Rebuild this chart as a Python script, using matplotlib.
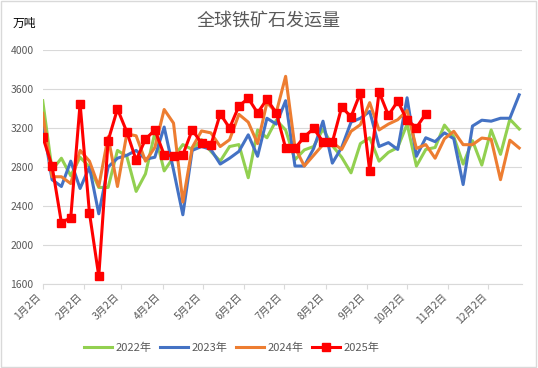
import matplotlib
matplotlib.use('Agg')
import matplotlib.pyplot as plt
from matplotlib.patches import Rectangle

plt.rcParams['font.family'] = ['Noto Sans CJK SC', 'DejaVu Sans']

# weekly values, 万吨
green_2022 = [3480, 2770, 2890, 2710, 2900, 2800, 2590, 2590, 2970, 2910, 2550, 2730, 3150,
              2760, 2900, 3030, 2980, 3080, 2960, 2860, 3010, 3030, 2690, 3180, 3100, 3280,
              3180, 2875, 2975, 3010, 3190, 3020, 2900, 2740, 3040, 3100, 2860, 2950, 3000,
              3240, 2810, 2980, 3000, 3230, 3110, 2830, 3070, 2820, 3180, 2930, 3290, 3190]
blue_2023 = [3250, 2670, 2600, 2860, 2580, 2800, 2320, 2800, 2890, 2920, 2970, 2880, 2900,
             3210, 2770, 2310, 2970, 3010, 2980, 2830, 2890, 2960, 3130, 2910, 3300, 3240,
             3480, 2810, 2810, 2990, 3270, 2840, 3000, 3260, 3300, 3370, 3010, 3050, 2980,
             3510, 2910, 3100, 3060, 3150, 3090, 2620, 3220, 3280, 3270, 3300, 3300, 3540]
orange_2024 = [3350, 2700, 2700, 2630, 2970, 2860, 2600, 3110, 2600, 3140, 3120, 2860, 3000,
               3390, 3250, 2440, 3000, 3170, 3150, 3010, 3080, 3340, 3260, 3040, 3460, 3360,
               3730, 3000, 2810, 2920, 3030, 3050, 2980, 3166, 3234, 3460, 3180, 3240, 3285,
               3380, 2990, 3030, 2890, 3090, 3166, 3029, 3029, 3097, 3085, 2670, 3075, 2995]
red_2025 = [3110, 2810, 2230, 2280, 3450, 2330, 1680, 3070, 3395, 3160, 2870, 3085, 3180,
            2925, 2915, 2925, 3180, 3045, 3025, 3345, 3200, 3425, 3505, 3355, 3495, 3355,
            2995, 2990, 3110, 3195, 3060, 3055, 3415, 3315, 3560, 2757, 3570, 3330, 3475,
            3280, 3205, 3345]

# days since 1月2日 for each month tick
tick_days = [0, 31, 59, 90, 120, 151, 181, 212, 243, 273, 304, 334]
tick_labels = [f'{m}月2日' for m in range(1, 13)]

GRAY = '#595959'


def week_days(values):
    return [i * 7 for i in range(len(values))]


def main():
    fig = plt.figure(figsize=(5.38, 3.68), dpi=100)
    ax = fig.add_axes([0.0794, 0.2283, 0.8906, 0.6358])

    ax.plot(week_days(green_2022), green_2022, color='#92d050', lw=2.2, label='2022年')
    ax.plot(week_days(blue_2023), blue_2023, color='#4472c4', lw=2.2, label='2023年')
    ax.plot(week_days(orange_2024), orange_2024, color='#ed7d31', lw=2.2, label='2024年')
    ax.plot(week_days(red_2025), red_2025, color='#ff0000', lw=2.2, marker='s',
            markersize=5.5, label='2025年')

    ax.set_xlim(0, 359)
    ax.set_ylim(1600, 4000)
    ax.set_yticks(range(1600, 4001, 400))
    ax.set_xticks(tick_days)
    ax.set_xticklabels(tick_labels, rotation=45, ha='right', rotation_mode='default')

    ax.grid(axis='y', color='#d9d9d9', lw=0.8)
    ax.set_axisbelow(True)
    for side in ['left', 'right', 'top']:
        ax.spines[side].set_visible(False)
    ax.spines['bottom'].set_color('#d9d9d9')
    ax.tick_params(axis='y', length=0, pad=6.5, labelsize=7.5, labelcolor=GRAY)
    ax.tick_params(axis='x', length=3.5, color='#d9d9d9', pad=2, labelsize=7.5, labelcolor=GRAY)

    fig.text(0.5, 0.943, '全球铁矿石发运量', ha='center', va='center', fontsize=13, color=GRAY)
    fig.text(0.024, 0.937, '万吨', ha='left', va='center', fontsize=8.5, color='black')

    leg = fig.legend(loc='center', bbox_to_anchor=(0.431, 0.054), ncol=4, frameon=False,
                     fontsize=8, handlelength=2.5, handletextpad=0.3, columnspacing=0.8)
    for t in leg.get_texts():
        t.set_color(GRAY)

    fig.patches.append(Rectangle((0.002, 0.003), 0.995, 0.994, transform=fig.transFigure,
                                 fill=False, edgecolor='#d9d9d9', lw=1))

    fig.savefig('out.png', dpi=100)


if __name__ == "__main__":
    main()
